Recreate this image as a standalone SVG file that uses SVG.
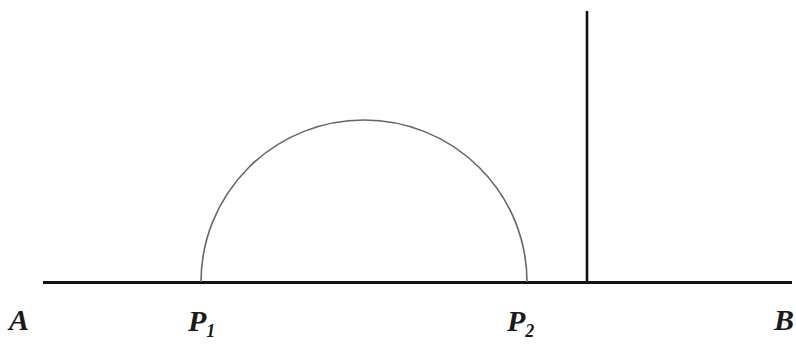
<svg xmlns="http://www.w3.org/2000/svg" width="796" height="345" viewBox="0 0 796 345">
<style>
.lbl{font-family:"Liberation Serif","Times New Roman",serif;font-weight:bold;font-style:italic;font-size:30px;fill:#1a1a1a}
.sub{font-size:18px}
</style>
<rect width="796" height="345" fill="#ffffff"/>
<g id="connectors">
<line x1="43" y1="282.5" x2="792" y2="282.5" stroke="#111" stroke-width="3.2"/>
<line x1="587" y1="11" x2="587" y2="282" stroke="#111" stroke-width="2.6"/>
<path d="M201,282 A163,162 0 0 1 527,282" fill="none" stroke="#666" stroke-width="1.6"/>
</g>
<g id="A"><text class="lbl" x="9" y="330">A</text></g>
<g id="P1"><text class="lbl" x="188" y="331">P<tspan class="sub" dy="6">1</tspan></text></g>
<g id="P2"><text class="lbl" x="507" y="331">P<tspan class="sub" dy="6">2</tspan></text></g>
<g id="B"><text class="lbl" x="774" y="330">B</text></g>
</svg>
